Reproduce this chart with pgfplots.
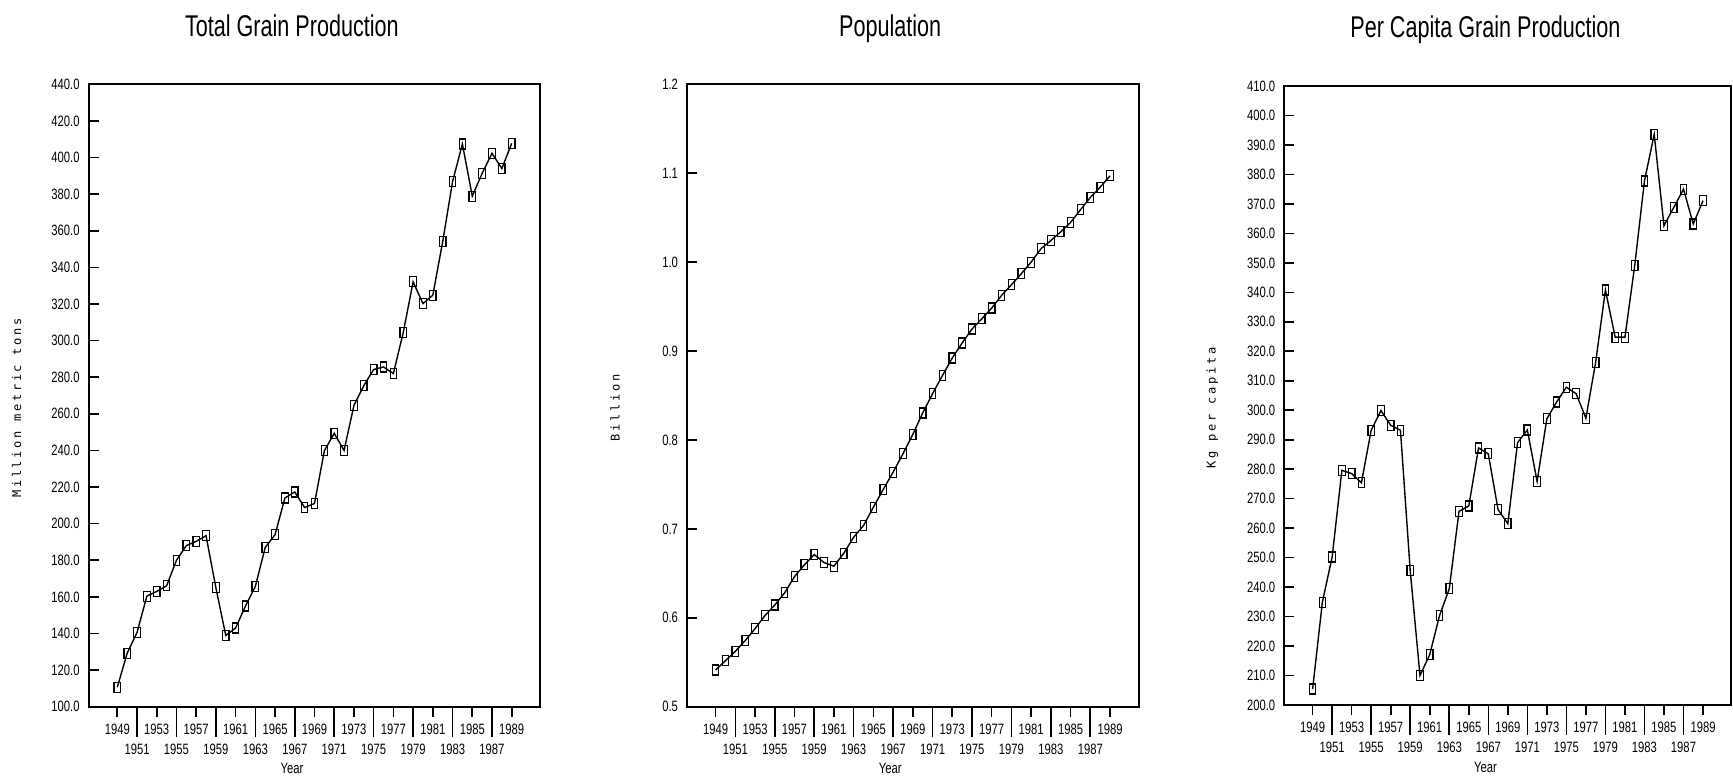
\documentclass[border=0pt]{standalone}
\usepackage{fontspec}
\setmainfont[FakeStretch=0.75]{Liberation Sans}
\newfontfamily\titlefont[FakeStretch=0.72]{Liberation Sans}
\newfontfamily\ylabfont[LetterSpace=22]{DejaVu Sans Mono}
\usepackage{pgfplots}
\pgfplotsset{compat=1.18}

% shared look of the three old plotter-style panels (1 px of the scan = 0.5pt)
\pgfplotsset{
  panel/.style={
    scale only axis,
    width=225.8pt, height=311.2pt,
    xmin=1946.1, xmax=1991.9,
    /pgf/number format/assume math mode=true,
    axis line style={line width=0.9pt},
    every tick/.style={black, line width=0.8pt},
    tick align=outside,
    major tick length=5pt,
    xtick pos=bottom, ytick pos=left,
    xtick={1949,1953,...,1989},
    extra x ticks={1951,1955,...,1987},
    extra x tick style={major tick length=15pt},
    xticklabel style={font=\fontsize{7.5}{8}\selectfont,
      /pgf/number format/1000 sep={}},
    ytick style={xshift=5pt},
    yticklabel style={font=\fontsize{7.5}{8}\selectfont, xshift=4pt,
      /pgf/number format/.cd, fixed, fixed zerofill, precision=1},
    title style={at={(axis description cs:0.45,1)}, anchor=base,
      yshift=18pt, font=\titlefont\fontsize{15}{17}\selectfont},
    xlabel={Year},
    xlabel style={at={(axis description cs:0.45,0)}, anchor=center,
      yshift=-31pt, font=\fontsize{7.5}{8}\selectfont},
    ylabel style={at={(axis description cs:0,0.48)}, anchor=center,
      yshift=36pt, font=\ylabfont\fontsize{6}{7}\selectfont},
  },
  series/.style={black, line width=0.7pt,
    mark=square, mark size=2.5pt,
    mark options={xscale=0.65, line width=0.6pt, solid}},
}

\begin{document}
\begin{tikzpicture}
\useasboundingbox (0,0) rectangle (866.5pt,388pt);

% ---- total grain production
\begin{axis}[panel, at={(44.35pt,34.65pt)}, anchor=south west,
  ymin=100, ymax=440, ytick={100,120,...,440},
  title={Total Grain Production},
  ylabel={Million metric tons}]
\addplot[series] coordinates {
  (1949,110.6) (1950,129.2) (1951,140.5) (1952,160.4) (1953,163.0)
  (1954,166.0) (1955,180.0) (1956,188.0) (1957,190.3) (1958,193.4)
  (1959,165.0) (1960,138.9) (1961,143.0) (1962,155.0) (1963,165.7)
  (1964,187.0) (1965,194.0) (1966,214.0) (1967,217.3) (1968,208.8)
  (1969,211.0) (1970,239.8) (1971,249.3) (1972,240.0) (1973,264.6)
  (1974,275.4) (1975,284.2) (1976,285.6) (1977,282.0) (1978,304.4)
  (1979,332.1) (1980,320.2) (1981,324.8) (1982,354.0) (1983,386.8)
  (1984,407.4) (1985,378.9) (1986,391.3) (1987,402.3) (1988,394.0)
  (1989,407.7)
};
\end{axis}

% ---- population
\begin{axis}[panel, at={(343.5pt,34.65pt)}, anchor=south west,
  ymin=0.5, ymax=1.2, ytick={0.5,0.6,...,1.21},
  title={Population},
  ylabel={Billion}]
\addplot[series] coordinates {
  (1949,0.5413) (1950,0.5518) (1951,0.5623) (1952,0.5743) (1953,0.5878)
  (1954,0.6024) (1955,0.6144) (1956,0.6280) (1957,0.6463) (1958,0.6595)
  (1959,0.6711) (1960,0.6621) (1961,0.6580) (1962,0.6726) (1963,0.6906)
  (1964,0.7037) (1965,0.7244) (1966,0.7443) (1967,0.7638) (1968,0.7844)
  (1969,0.8062) (1970,0.8303) (1971,0.8520) (1972,0.8723) (1973,0.8921)
  (1974,0.9090) (1975,0.9247) (1976,0.9363) (1977,0.9483) (1978,0.9625)
  (1979,0.9745) (1980,0.9869) (1981,1.0000) (1982,1.0150) (1983,1.0243)
  (1984,1.0341) (1985,1.0446) (1986,1.0588) (1987,1.0727) (1988,1.0843)
  (1989,1.0970)
};
\end{axis}

% ---- per capita grain production
\begin{axis}[panel, at={(642.15pt,35.5pt)}, anchor=south west,
  width=223.5pt, height=309.5pt,
  ymin=200, ymax=410, ytick={200,210,...,410},
  title={Per Capita Grain Production},
  ylabel={Kg per capita}]
\addplot[series] coordinates {
  (1949,205.4) (1950,234.9) (1951,250.2) (1952,279.6) (1953,278.5)
  (1954,275.4) (1955,293.2) (1956,299.9) (1957,294.9) (1958,293.2)
  (1959,245.6) (1960,210.0) (1961,217.1) (1962,230.3) (1963,239.4)
  (1964,265.7) (1965,267.5) (1966,287.2) (1967,285.2) (1968,266.3)
  (1969,261.5) (1970,289.0) (1971,293.3) (1972,275.9) (1973,297.1)
  (1974,302.8) (1975,307.8) (1976,305.6) (1977,297.3) (1978,316.3)
  (1979,340.8) (1980,324.8) (1981,324.8) (1982,349.0) (1983,377.8)
  (1984,393.6) (1985,362.6) (1986,368.8) (1987,375.0) (1988,363.2)
  (1989,371.1)
};
\end{axis}
\end{tikzpicture}
\end{document}
